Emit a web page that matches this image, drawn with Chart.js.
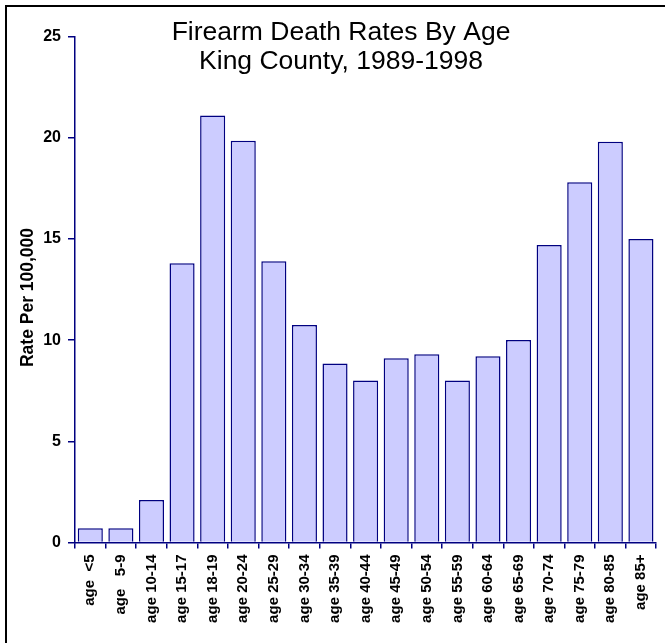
<!DOCTYPE html>
<html>
<head>
<meta charset="utf-8">
<script src="https://cdn.jsdelivr.net/npm/chart.js@4/dist/chart.umd.min.js"></script>
<style>
  html, body { margin: 0; padding: 0; background: #fff; }
  canvas { display: block; }
</style>
</head>
<body>
<canvas id="c" width="665" height="643"></canvas>
<script>
const categories = ['age  <5', 'age   5-9', 'age 10-14', 'age 15-17', 'age 18-19', 'age 20-24',
  'age 25-29', 'age 30-34', 'age 35-39', 'age 40-44', 'age 45-49', 'age 50-54', 'age 55-59',
  'age 60-64', 'age 65-69', 'age 70-74', 'age 75-79', 'age 80-85', 'age 85+'];
const rates = [0.7, 0.7, 2.1, 13.8, 21.1, 19.85, 13.9, 10.75, 8.85, 8.0, 9.1, 9.3, 8.0,
  9.2, 10.0, 14.7, 17.8, 19.8, 15.0];
const titleLines = ['Firearm Death Rates By Age', 'King County, 1989-1998'];
const yTitle = 'Rate Per 100,000';
const yMin = 0, yMax = 25, yStep = 5;

const FONT = '"Liberation Sans", Arial, Helvetica, sans-serif';
const NAVY = '#000080';

const framePlugin = {
  id: 'frame',
  afterDraw(chart) {
    const ctx = chart.ctx;
    ctx.save();
    ctx.strokeStyle = '#000';
    ctx.lineWidth = 2;
    ctx.strokeRect(6, 6, 720, 720);
    ctx.fillStyle = '#000';
    ctx.font = '26.5px ' + FONT;
    ctx.textAlign = 'center';
    ctx.textBaseline = 'middle';
    ctx.fillText(titleLines[0], 341, 33);
    ctx.fillText(titleLines[1], 341, 62);
    // y-axis title
    const area = chart.chartArea;
    ctx.translate(28, (area.top + area.bottom) / 2 + 8);
    ctx.rotate(-Math.PI / 2);
    ctx.font = 'bold 17.5px ' + FONT;
    ctx.fillText(yTitle, 0, 0);
    ctx.restore();
  }
};

new Chart(document.getElementById('c'), {
  type: 'bar',
  data: {
    labels: categories,
    datasets: [{
      data: rates,
      backgroundColor: '#CCCCFF',
      borderColor: NAVY,
      borderWidth: 1.5,
      categoryPercentage: 1.0,
      barPercentage: 0.82
    }]
  },
  options: {
    responsive: false,
    animation: false,
    layout: { padding: { left: 8, right: 3, top: 36.5, bottom: 0 } },
    plugins: { legend: { display: false }, tooltip: { enabled: false }, title: { display: false } },
    scales: {
      x: {
        offset: true,
        grid: { display: true, offset: true, drawOnChartArea: false, drawTicks: true, tickLength: 6, color: NAVY, lineWidth: 1.5 },
        border: { display: true, color: NAVY, width: 1.5 },
        ticks: {
          autoSkip: false, maxRotation: 90, minRotation: 90, padding: 6,
          color: '#000', font: { family: FONT, size: 15, weight: 'bold' }
        },
        afterFit(scale) { scale.height = 100.5; }
      },
      y: {
        min: yMin, max: yMax,
        grid: { display: true, drawOnChartArea: false, drawTicks: true, tickLength: 7, color: NAVY, lineWidth: 1.5 },
        border: { display: true, color: NAVY, width: 1.5 },
        ticks: {
          stepSize: yStep, padding: 7, color: '#000',
          font: { family: FONT, size: 16, weight: 'bold' }
        },
        title: { display: false },
        afterFit(scale) { scale.width = 67; }
      }
    }
  },
  plugins: [framePlugin]
});
</script>
</body>
</html>
